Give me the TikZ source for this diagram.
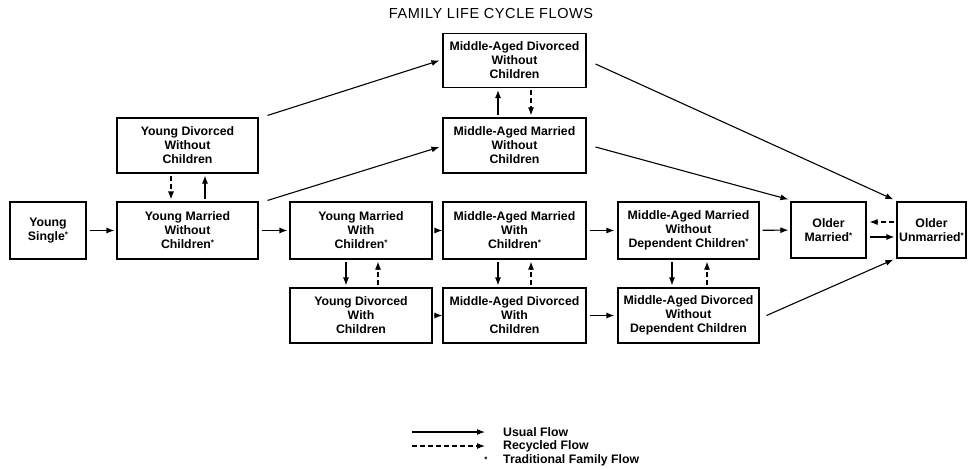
\documentclass[tikz,border=0pt]{standalone}
\usepackage{fontspec}
\setmainfont{Liberation Sans}
\usetikzlibrary{arrows.meta}
\newcommand{\tfmark}{\raisebox{0.5ex}{\fontsize{8}{8}\selectfont\bfseries *}}
\begin{document}
\begin{tikzpicture}[x=1pt,y=-1pt,
  box/.style={draw, line width=1.1pt, align=center, inner sep=0pt,
    font=\bfseries\fontsize{12.3}{14}\selectfont},
  usual/.style={line width=1.1pt, -{Latex[length=8pt,width=6pt]}},
  recyc/.style={usual, dash pattern=on 5pt off 3pt},
  lab/.style={font=\bfseries\fontsize{12.3}{14}\selectfont, anchor=west, inner sep=0pt}]
\useasboundingbox (0,0) rectangle (968,469);
\fill[white] (0,0) rectangle (968,469);

\node[font=\fontsize{14.5}{16}\selectfont\addfontfeatures{LetterSpace=4}] (title) at (491,14) {FAMILY LIFE CYCLE FLOWS};

% row 1
\node[box, minimum width=143pt, minimum height=54pt] (madwoc) at (514.5,60.5) {Middle-Aged Divorced\\Without\\Children};
% row 2
\node[box, minimum width=141pt, minimum height=55pt] (ydwoc) at (187.5,145.5) {Young Divorced\\Without\\Children};
\node[box, minimum width=143pt, minimum height=55pt] (mamwoc) at (514.5,145.5) {Middle-Aged Married\\Without\\Children};
% row 3
\node[box, minimum width=76pt, minimum height=57pt] (ys) at (48,230.5) {Young\\Single\tfmark};
\node[box, minimum width=141pt, minimum height=57pt] (ymwoc) at (187.5,230.5) {Young Married\\Without\\Children\tfmark};
\node[box, minimum width=142pt, minimum height=57pt] (ymwc) at (361,230.5) {Young Married\\With\\Children\tfmark};
\node[box, minimum width=143pt, minimum height=57pt] (mamwc) at (514.5,230.5) {Middle-Aged Married\\With\\Children\tfmark};
\node[box, minimum width=141pt, minimum height=57pt] (mamwdc) at (688.5,230.5) {Middle-Aged Married\\Without\\Dependent Children\tfmark};
\node[box, minimum width=75pt, minimum height=56pt] (om) at (828.5,230) {Older\\Married\tfmark};
\node[box, minimum width=69pt, minimum height=56pt] (ou) at (931.5,230) {Older\\Unmarried\tfmark};
% row 4
\node[box, minimum width=142pt, minimum height=55pt] (ydwc) at (361,315.5) {Young Divorced\\With\\Children};
\node[box, minimum width=143pt, minimum height=55pt] (madwc) at (514.5,315.5) {Middle-Aged Divorced\\With\\Children};
\node[box, minimum width=141pt, minimum height=55pt] (madwdc) at (688.5,315.5) {Middle-Aged Divorced\\Without\\Dependent Children};

% horizontal flows
\draw[usual, shorten <=3pt, shorten >=2pt] (ys) -- (ymwoc);
\draw[usual, shorten <=3pt, shorten >=2pt] (ymwoc) -- (ymwc);
\draw[usual, shorten <=2pt, shorten >=0pt] (ymwc) -- (mamwc);
\draw[usual, shorten <=3pt, shorten >=3pt] (mamwc) -- (mamwdc);
\draw[usual, shorten <=3pt, shorten >=2pt] (mamwdc) -- (om);
\draw[usual, shorten <=3pt, shorten >=2pt] ([yshift=-7pt]om.east) -- ([yshift=-7pt]ou.west);
\draw[recyc, shorten <=2pt, shorten >=3pt] ([yshift=8pt]ou.west) -- ([yshift=8pt]om.east);
\draw[usual, shorten <=1pt, shorten >=0pt] (ydwc) -- (madwc);
\draw[usual, shorten <=3pt, shorten >=3pt] (madwc) -- (madwdc);

% vertical flows
\draw[recyc, shorten <=2pt, shorten >=2pt] ([xshift=-16.5pt]ydwoc.south) -- ([xshift=-16.5pt]ymwoc.north);
\draw[usual, shorten <=2pt, shorten >=2pt] ([xshift=17.5pt]ymwoc.north) -- ([xshift=17.5pt]ydwoc.south);
\draw[usual, shorten <=2pt, shorten >=2pt] ([xshift=-16.5pt]mamwoc.north) -- ([xshift=-16.5pt]madwoc.south);
\draw[recyc, shorten <=2pt, shorten >=2pt] ([xshift=16.5pt]madwoc.south) -- ([xshift=16.5pt]mamwoc.north);
\draw[usual, shorten <=2pt, shorten >=2pt] ([xshift=-15pt]ymwc.south) -- ([xshift=-15pt]ydwc.north);
\draw[recyc, shorten <=2pt, shorten >=2pt] ([xshift=17pt]ydwc.north) -- ([xshift=17pt]ymwc.south);
\draw[usual, shorten <=2pt, shorten >=2pt] ([xshift=-16.5pt]mamwc.south) -- ([xshift=-16.5pt]madwc.north);
\draw[recyc, shorten <=2pt, shorten >=2pt] ([xshift=16.5pt]madwc.north) -- ([xshift=16.5pt]mamwc.south);
\draw[usual, shorten <=2pt, shorten >=2pt] ([xshift=-16.5pt]mamwdc.south) -- ([xshift=-16.5pt]madwdc.north);
\draw[recyc, shorten <=2pt, shorten >=2pt] ([xshift=18.5pt]madwdc.north) -- ([xshift=18.5pt]mamwdc.south);

% diagonal flows
\draw[usual] ([xshift=9pt,yshift=2pt]ydwoc.north east) -- ([xshift=-3pt]madwoc.west);
\draw[usual] ([xshift=9pt,yshift=1pt]ymwoc.north east) -- ([xshift=-3pt,yshift=-1.5pt]mamwoc.west);
\draw[usual] ([xshift=9pt,yshift=-3.5pt]madwoc.east) -- ([xshift=-3pt,yshift=2pt]ou.north west);
\draw[usual] ([xshift=9pt,yshift=-1.5pt]mamwoc.east) -- ([xshift=-2pt,yshift=2pt]om.north west);
\draw[usual] ([xshift=7pt]madwdc.east) -- ([xshift=-3pt,yshift=-1pt]ou.south west);

% legend
\coordinate (l1a) at (412,432); \coordinate (l1b) at (485,432);
\coordinate (l2a) at (412,446); \coordinate (l2b) at (485,446);
\draw[usual] (l1a) -- (l1b);
\draw[recyc] (l2a) -- (l2b);
\node[inner sep=0pt] (ldot) at (486,460) {\fontsize{8}{8}\selectfont\bfseries *};
\node[lab] (t1) at (503,432) {Usual Flow};
\node[lab] (t2) at (503,446) {Recycled Flow};
\node[lab] (t3) at (503,460) {Traditional Family Flow};
\end{tikzpicture}
\end{document}
